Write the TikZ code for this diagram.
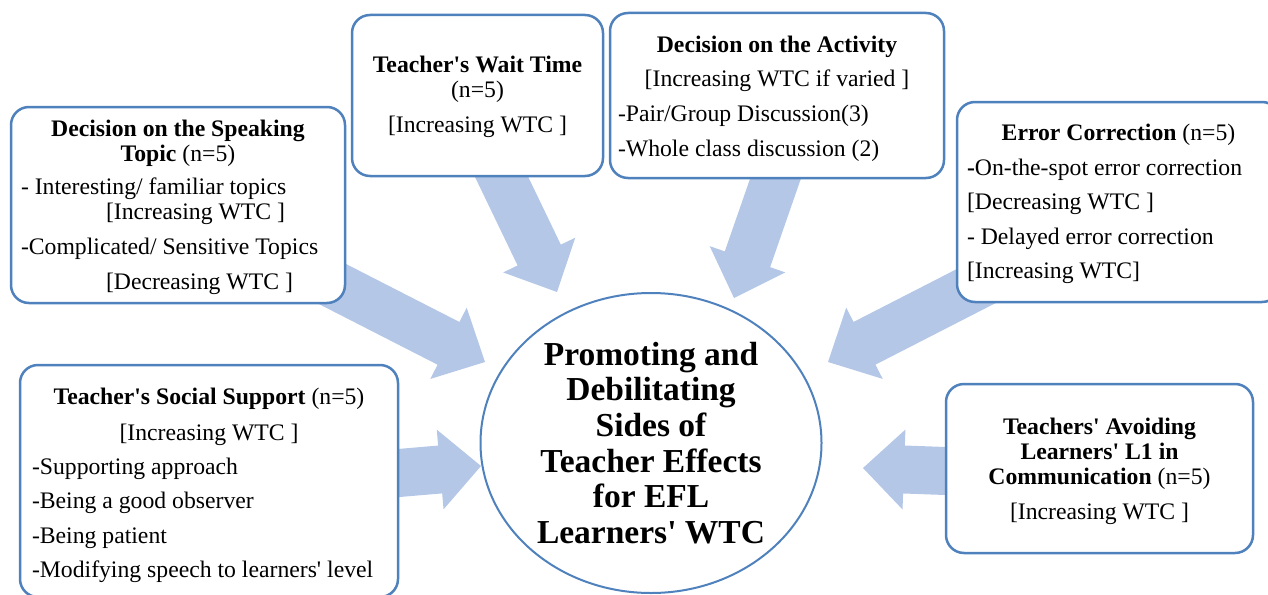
\documentclass[tikz,border=0pt]{standalone}
\usepackage{fontspec}
\setmainfont{Liberation Serif}
\usetikzlibrary{calc,shapes.geometric}
\definecolor{arrowblue}{RGB}{180,199,231}
\definecolor{boxblue}{RGB}{79,129,189}
\newcommand{\sq}{\textquotesingle}
\newcommand{\cl}[1]{\makebox[\hsize][c]{#1}}
% shifted paragraph: #1 downward shift, #2 width, #3 content
\newcommand{\boxtext}[3]{\raisebox{-#1}[\height][\depth]{\parbox{#2}{\raggedright #3}}}
\newcommand{\boxtextc}[3]{\raisebox{-#1}[\height][\depth]{\parbox{#2}{\centering #3}}}
% block arrow from #1 (start) to #2 (tip), helper name #3
\newcommand{\blockarrow}[3]{%
  \coordinate (#3) at ($(#2)!41pt!(#1)$);
  \fill[arrowblue] (#2) -- ($(#3)!40pt!90:(#2)$) -- ($(#3)!24pt!90:(#2)$)
    -- ($(#1)!24pt!90:(#2)$) -- ($(#1)!24pt!-90:(#2)$)
    -- ($(#3)!24pt!-90:(#2)$) -- ($(#3)!40pt!-90:(#2)$) -- cycle;}
\begin{document}
\begin{tikzpicture}[x=1pt,y=-1pt,
  every node/.style={font=\fontsize{23.7}{25}\selectfont},
  box/.style={draw=boxblue, line width=2.5pt, rounded corners=18pt, fill=white,
    inner sep=0pt}]
\useasboundingbox (0,0) rectangle (1268,594);
% arrow end points
\coordinate (topicS) at (307,271);  \coordinate (topicT) at (485,362);
\coordinate (waitS)  at (492,157);  \coordinate (waitT)  at (557,292);
\coordinate (actS)   at (783,157);  \coordinate (actT)   at (734,298);
\coordinate (errS)   at (988,280);  \coordinate (errT)   at (828,362);
\coordinate (avS)    at (1000,473); \coordinate (avT)    at (863,468);
\coordinate (socS)   at (340,478);  \coordinate (socT)   at (481,466);
\blockarrow{topicS}{topicT}{topicH}
\blockarrow{waitS}{waitT}{waitH}
\blockarrow{actS}{actT}{actH}
\blockarrow{errS}{errT}{errH}
\blockarrow{avS}{avT}{avH}
\blockarrow{socS}{socT}{socH}
% boxes
\node[box, minimum width=334pt, minimum height=196pt] (topic) at (178,205) {%
  \boxtext{2.5pt}{314pt}{%
  \cl{\textbf{Decision on the Speaking}}\\
  \cl{\textbf{Topic} (n=5)}\\[8pt]
  - Interesting/ familiar topics\\
  \hspace*{85pt}{[}Increasing WTC ]\\[10pt]
  -Complicated/ Sensitive Topics\\[10pt]
  \hspace*{85pt}{[}Decreasing WTC ]}};
\node[box, minimum width=251pt, minimum height=161pt] (wait) at (477.5,95.5) {%
  \boxtextc{1.5pt}{231pt}{%
  \textbf{Teacher\sq s Wait Time}\\
  (n=5)\\[10pt]
  {[}Increasing WTC ]}};
\node[box, minimum width=334pt, minimum height=165pt] (act) at (777,95.5) {%
  \boxtext{3pt}{318pt}{%
  \cl{\textbf{Decision on the Activity}}\\[9pt]
  \cl{{[}Increasing WTC if varied ]}\\[10pt]
  -Pair/Group Discussion(3)\\[10pt]
  -Whole class discussion (2)}};
\node[box, minimum width=323pt, minimum height=200pt] (err) at (1118.5,202) {%
  \boxtext{2pt}{303pt}{%
  \cl{\textbf{Error Correction} (n=5)}\\[10pt]
  \textbf{-}On-the-spot error correction\\[9pt]
  {[}Decreasing WTC ]\\[10pt]
  - Delayed error correction\\[9pt]
  {[}Increasing WTC]}};
\node[box, minimum width=378pt, minimum height=232pt] (soc) at (209,481) {%
  \boxtext{4pt}{354pt}{%
  \cl{\textbf{Teacher\sq s Social Support} (n=5)}\\[11pt]
  \cl{{[}Increasing WTC ]}\\[9pt]
  -Supporting approach\\[9pt]
  -Being a good observer\\[10pt]
  -Being patient\\[9pt]
  -Modifying speech to learners\sq\ level}};
\node[box, minimum width=307pt, minimum height=169pt] (av) at (1099.5,468.5) {%
  \boxtextc{2.5pt}{287pt}{%
  \textbf{Teachers\sq\ Avoiding}\\
  \textbf{Learners\sq\ L1 in}\\
  \textbf{Communication} (n=5)\\[10pt]
  {[}Increasing WTC ]}};
% centre
\node[ellipse, draw=boxblue, line width=2pt, fill=white, minimum width=341pt, minimum height=300pt,
  inner sep=0pt, align=center, font=\bfseries\fontsize{33.5}{35.6}\selectfont]
  (centre) at (651,443) {Promoting and\\ Debilitating\\ Sides of\\ Teacher Effects\\ for EFL\\ Learners\sq\ WTC};
\end{tikzpicture}
\end{document}
